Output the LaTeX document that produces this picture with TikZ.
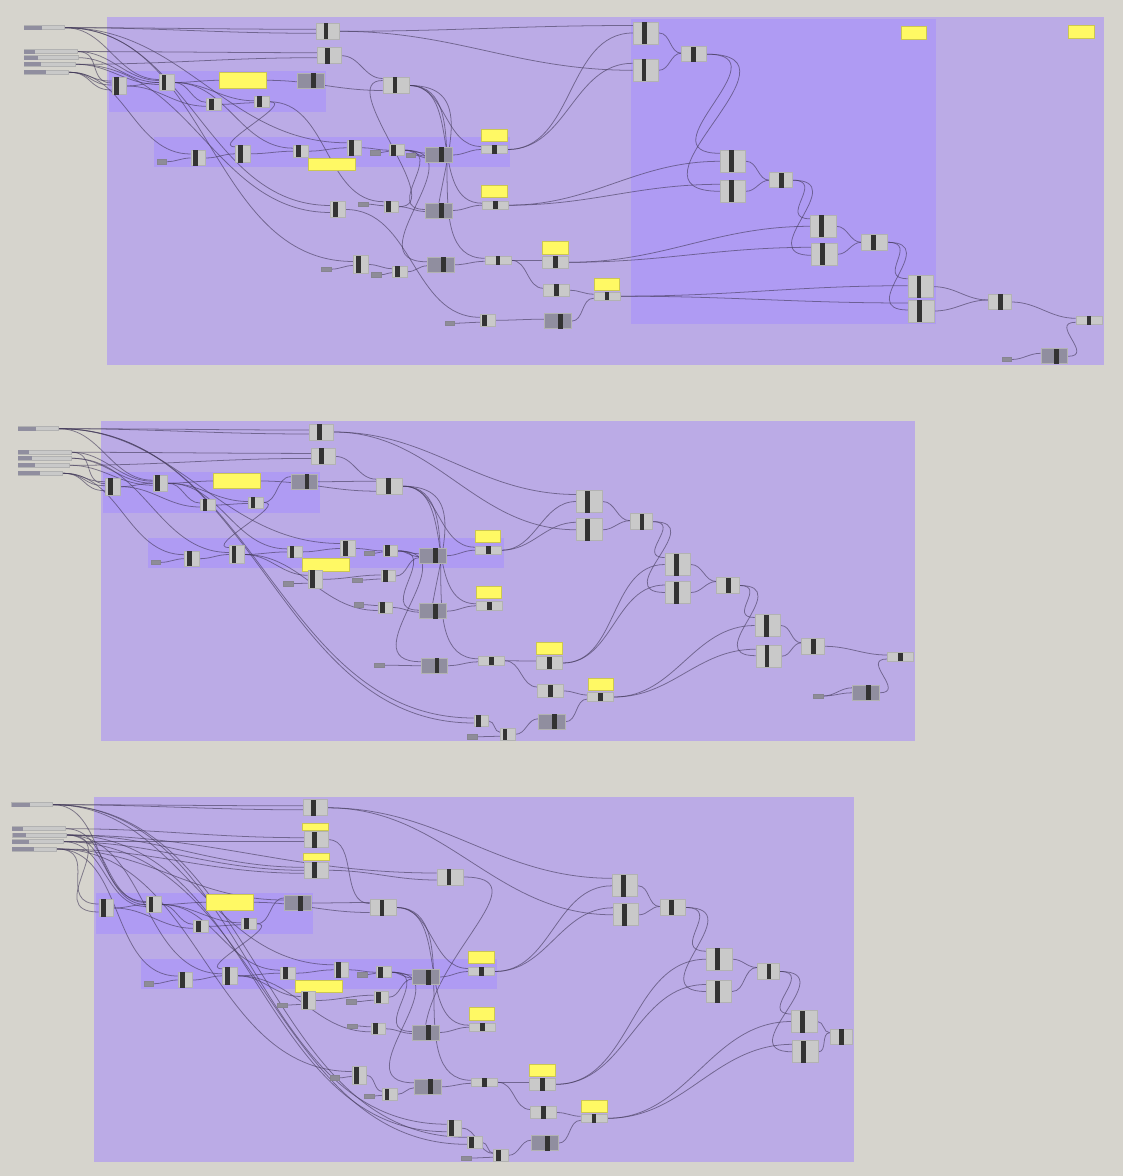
\documentclass[tikz,border=0pt]{standalone}
\usepackage{tikz}
\pgfdeclarelayer{background}
\pgfsetlayers{background,main}
\definecolor{bgc}{HTML}{D6D4CD}
\definecolor{panelc}{HTML}{BBABE6}
\definecolor{grpc}{HTML}{AF9BF3}
\definecolor{compc}{HTML}{C9C9C9}
\definecolor{barc}{HTML}{333333}
\definecolor{dkc}{HTML}{908E9F}
\definecolor{yelc}{HTML}{FFF964}
\definecolor{tagc}{HTML}{8E8C98}
\definecolor{wirec}{HTML}{453C5C}
\tikzset{
  panel/.style={fill=panelc},
  grp/.style={fill=grpc},
  comp/.style={rectangle,draw=black!30,line width=0.5pt,fill=compc,inner sep=0pt},
  darkcomp/.style={comp,fill=dkc},
  yelbox/.style={rectangle,draw=yelc!80!black,line width=0.4pt,fill=yelc,inner sep=0pt},
  tagbox/.style={rectangle,draw=tagc!95!black,line width=0.3pt,fill=tagc,inner sep=0pt,minimum width=7.2pt,minimum height=3.3pt},
  bar/.style={fill=barc},
  wire/.style={draw=wirec,draw opacity=0.62,line width=0.58pt},
}
% generic component: name,x,y,w,h,bar offset,style
\newcommand\Cgen[7]{\node[#7,minimum width={#4*0.75pt},minimum height={#5*0.75pt}] (#1) at (#2,#3) {};
  \fill[bar] ({#2+#6-2.4},{#3-#5/2}) rectangle ({#2+#6+2.4},{#3+#5/2});}
\newcommand\Cbig[3]{\Cgen{#1}{#2}{#3}{25.5}{22}{-1.7}{comp}}
\newcommand\Cmid[3]{\Cgen{#1}{#2}{#3}{23.4}{16}{-1.8}{comp}}
\newcommand\Cnar[4]{\Cgen{#1}{#2}{#3}{14.7}{#4}{-2.8}{comp}}
\newcommand\Cdk[3]{\Cgen{#1}{#2}{#3}{26.6}{15}{2.5}{darkcomp}}
\newcommand\Cflat[3]{\Cgen{#1}{#2}{#3}{26}{8.5}{0}{comp}}
\newcommand\Cflb[3]{\Cgen{#1}{#2}{#3}{26}{12.4}{0}{comp}}
\newcommand\Cyel[5]{\node[yelbox,minimum width={#4*0.75pt},minimum height={#5*0.75pt}] (#1) at (#2,#3) {};}
\newcommand\Ctag[3]{\node[tagbox] (#1) at (#2,#3) {};}
\newcommand\Csld[5]{\node[comp,draw=black!30,fill=compc,minimum width={(#3-#2)*0.75pt},minimum height=3pt] (#1) at ({(#2+#3)/2},#4) {};
  \fill[dkc] (#2,{#4-2}) rectangle (#5,{#4+2});}
% wire: [looseness] from, to, vertical offset at target in px
\newcommand\gwire[4][1]{\draw[wire] (#2.east) to[out=0,in=180,looseness=#1] ([yshift={-(#4)*0.75pt}]#3.west);}
\newcommand\gwiretop[2]{\draw[wire] (#1.east) to[out=0,in=80,looseness=1.3] (#2.north);}
% the parts that every panel repeats
\newcommand\commongroups[2]{%
 \begin{scope}[shift={(#1,#2)}]
   \fill[grp] (109,71) rectangle (326,112);
   \fill[grp] (154.3,137.3) rectangle (510,167.3);
 \end{scope}}
\newcommand\commonnodes[3]{%
 \begin{scope}[shift={(#2,#3)}]
  \Cnar{#1A}{119.3}{86}{17.3}
  \Cnar{#1B}{166.7}{82.5}{15.7}
  \Cyel{#1Y}{243}{80.3}{46.6}{15.3}
  \Cdk{#1K}{310.7}{81}
  \Cnar{#1C}{214}{104.3}{11.3}
  \Cnar{#1D}{262}{101.8}{11.3}
  \Cgen{#1Z}{396}{85.5}{26}{16}{-1}{comp}
  \Ctag{#1T}{161.8}{161.7}
  \Cnar{#1E}{198.3}{158}{15.4}
  \Cnar{#1F}{243}{153.8}{17.7}
  \Cnar{#1G}{301}{151.2}{11.7}
  \Cnar{#1H}{354.3}{147.8}{15.7}
  \Cyel{#1X}{332}{164.2}{46.6}{12.3}
  \Ctag{#1U}{375.2}{152.7}
  \Cnar{#1J}{396.5}{150.2}{11}
  \Cdk{#1L}{439}{155}
  \Cyel{#1V}{494.2}{135.5}{25.6}{12.3}
  \Cflat{#1W}{494.5}{149.5}
 \end{scope}}
\newcommand\commonwires[1]{%
 \gwire{#1A}{#1B}{0}\gwire{#1A}{#1C}{2}\gwire{#1B}{#1Y}{0}\gwire{#1B}{#1C}{-2}\gwire{#1B}{#1D}{-1}
 \gwire{#1C}{#1D}{1}\gwire{#1D}{#1K}{-5}\gwire[1.2]{#1D}{#1F}{-7}
 \gwire{#1Y}{#1Z}{5}\gwire{#1K}{#1Z}{-5}
 \gwire{#1T}{#1E}{0}\gwire{#1E}{#1F}{0}\gwire{#1F}{#1G}{0}\gwire{#1G}{#1H}{0}\gwire{#1B}{#1G}{-3}
 \gwire{#1H}{#1J}{0}\gwire{#1U}{#1J}{1}\gwire{#1J}{#1L}{-2}\gwire{#1J}{#1L}{1}
 \gwire{#1L}{#1W}{0}\gwire{#1Z}{#1W}{-3}}
\begin{document}
\begin{tikzpicture}[x=0.75pt,y=-0.75pt]
\useasboundingbox (0,0) rectangle (1123,1176);
\begin{pgfonlayer}{background}
\fill[bgc] (0,0) rectangle (1123,1176);
\fill[panel] (107,17) rectangle (1104,365);
\fill[panel] (101,421) rectangle (915,741);
\fill[panel] (94,797) rectangle (854,1162);
\fill[grp] (630.7,19) rectangle (935.7,323.7);
\commongroups{0}{0}
\commongroups{-6.3}{400.7}
\commongroups{-13}{822}
\end{pgfonlayer}

%%%%%%%% panel 1 nodes
\commonnodes{a}{0}{0}
\Csld{as1}{24}{64.7}{27.7}{42}
\Csld{as2}{24}{77.7}{51.6}{35}
\Csld{as3}{24}{78}{57.7}{37.7}
\Csld{as4}{24}{75.7}{64.3}{41.3}
\Csld{as5}{24}{68.7}{72.3}{46}
\Cmid{aT1}{327.8}{31.3}
\Cmid{aT2}{329.5}{55.7}
\Ctag{atg0}{410.8}{155}
\Ctag{atg1}{363.2}{204.2}
\Cnar{aI}{338}{209.5}{15.7}
\Cnar{aK}{391.3}{206.7}{11.3}
\Cdk{aL2}{439}{210.5}
\Cyel{aV2}{494.5}{191.5}{25.6}{12.3}
\Cflat{aW2}{495.2}{205.2}
\Cnar{aM0}{361}{264.5}{17.7}
\Ctag{atg2}{326.2}{269.2}
\Ctag{atg3}{376.2}{274.7}
\Cnar{aM}{400}{271.7}{11.3}
\Cdk{aL3}{440.8}{264.8}
\Cflat{aW3}{498}{260.3}
\Cyel{aV3}{555.5}{247.8}{25.6}{12.3}
\Cflb{aN}{555.7}{262.3}
\Cflb{aO}{556.7}{290.3}
\Cyel{aV4}{606.8}{284.2}{25.6}{12.3}
\Cflat{aW4}{607}{296.2}
\Cdk{aL4}{557.8}{321.2}
\Cnar{aP}{487.5}{320.3}{11.3}
\Ctag{atg4}{449.8}{323.2}
\Cbig{aR1}{646}{33}
\Cbig{aR2}{645.7}{70.3}
\Cgen{aR3}{694.2}{54.2}{25}{15}{-1}{comp}
\Cbig{aR4}{733}{161.3}
\Cbig{aR5}{733}{191.3}
\Cgen{aR6}{781}{180.2}{22.6}{15}{0.5}{comp}
\Cbig{aR7}{823.2}{226.3}
\Cbig{aR8}{824.5}{254.3}
\Cgen{aR9}{874.5}{242.3}{25.6}{15.3}{-1}{comp}
\Cbig{aR10}{920.7}{286.7}
\Cbig{aR11}{921.2}{311}
\Cgen{aR12}{999.7}{302}{22.7}{15.3}{0.5}{comp}
\Cflat{aR13}{1089}{320.3}
\Cdk{aL5}{1054.3}{356.3}
\Ctag{atg5}{1006.7}{359.5}
\Cyel{aY3}{914}{33}{25.4}{12.7}
\Cyel{aY4}{1081.3}{32}{26}{12.7}

%%%%%%%% panel 2 nodes
\commonnodes{b}{-6.3}{400.7}
\Csld{bs1}{18}{58.7}{428.7}{36}
\Csld{bs2}{18}{71.7}{452.3}{29}
\Csld{bs3}{18.3}{71.7}{458.3}{31.7}
\Csld{bs4}{18}{69.7}{465.3}{35}
\Csld{bs5}{18}{62.7}{473.3}{40}
\Cmid{bT1}{321.5}{432}
\Cmid{bT2}{323.2}{456.4}
\Cnar{bQ}{315.2}{579.3}{17.7}
\Ctag{btg1}{288.2}{583.5}
\Cnar{bK2}{388.2}{576}{11.3}
\Ctag{btg2}{357.2}{580}
\Cnar{bK3}{385.2}{607.5}{11.3}
\Ctag{btg3}{358.8}{604.7}
\Cdk{bL2}{432.7}{611.2}
\Cyel{bV2}{488.8}{592.5}{25.6}{12.3}
\Cflat{bW2}{489.2}{605.8}
\Ctag{btg4}{379.2}{665.2}
\Cdk{bL3}{434.5}{665.7}
\Cflat{bW3}{491.7}{660.8}
\Cnar{bU1}{481.2}{721}{11.3}
\Cnar{bU3}{507.7}{734.3}{11.3}
\Ctag{btg5}{472.2}{736.7}
\Cbig{bR1}{589.5}{501.5}
\Cbig{bR2}{589.5}{529.8}
\Cgen{bR3}{641.5}{521.7}{22.4}{16}{0.5}{comp}
\Cbig{bR4}{677.8}{564.5}
\Cbig{bR5}{678}{592.5}
\Cgen{bR6}{728}{585.5}{22.6}{15.6}{0.5}{comp}
\Cbig{bR7}{767.8}{625.5}
\Cbig{bR8}{768.7}{656.2}
\Cgen{bR9}{813}{646.3}{22.6}{15.3}{0.5}{comp}
\Cflat{bR13}{900.5}{657}
\Cdk{bL5}{865.8}{692.8}
\Ctag{btg6}{818.2}{696}
\Cflb{bN}{549.5}{663}
\Cyel{bV3}{549.3}{648.5}{25.6}{12.3}
\Cflb{bO}{550.7}{691}
\Cyel{bV4}{600.7}{684.5}{25.6}{12.3}
\Cflat{bW4}{600.7}{697}
\Cdk{bL4}{551.7}{721.8}

%%%%%%%% panel 3 nodes
\commonnodes{c}{-13}{822}
\Csld{cs1}{11.7}{52.7}{804.7}{30}
\Csld{cs2}{12}{65.7}{828.7}{23}
\Csld{cs3}{12.7}{66.3}{835}{26}
\Csld{cs4}{12}{63.7}{841.7}{29.3}
\Csld{cs5}{12}{56.7}{849}{34}
\Cmid{cT1}{315.5}{807.8}
\Cyel{cYa}{315.5}{827}{26.4}{7}
\Cmid{cT2}{316.2}{839.7}
\Cyel{cYb}{316.5}{856.8}{26.4}{7}
\Cmid{cT3}{316.2}{870.3}
\Cgen{cW0}{450}{877}{26}{16}{-1}{comp}
\Cnar{cQ}{308.2}{1000.5}{17.7}
\Ctag{ctg1}{282.2}{1005}
\Cnar{cK2}{381.2}{997.2}{11.3}
\Ctag{ctg2}{351.2}{1001.7}
\Cnar{cK3}{378.2}{1028.8}{11.3}
\Ctag{ctg3}{352.2}{1026}
\Cdk{cL2}{425.7}{1032.5}
\Cyel{cV2}{481.8}{1013.8}{25.6}{12.3}
\Cflat{cW2}{482.2}{1027.2}
\Cnar{cM0}{359.2}{1075.5}{17.7}
\Ctag{ctg4}{334.8}{1077.8}
\Cnar{cM}{389.8}{1094.3}{11.3}
\Ctag{ctg5}{369.2}{1096}
\Cdk{cL3}{427.7}{1086.8}
\Cflat{cW3}{484.8}{1082.3}
\Cflb{cN}{542.7}{1084.3}
\Cyel{cV3}{542.5}{1070.2}{25.6}{12.3}
\Cflb{cO}{543.7}{1112.5}
\Cyel{cV4}{594.3}{1106.2}{25.6}{12.3}
\Cflat{cW4}{594}{1118.3}
\Cdk{cL4}{544.7}{1143.2}
\Cnar{cU1}{454.2}{1128.2}{15.7}
\Cnar{cU2}{474.5}{1142.3}{11.3}
\Cnar{cU3}{501}{1155.3}{11.3}
\Ctag{ctg6}{466.2}{1158}
\Cbig{cR1}{625}{885.8}
\Cbig{cR2}{626}{914.8}
\Cgen{cR3}{672.7}{907.5}{25.4}{15.6}{-1}{comp}
\Cbig{cR4}{719.5}{959.2}
\Cbig{cR5}{719}{991.5}
\Cgen{cR6}{768.5}{971.5}{22.4}{15.6}{0.5}{comp}
\Cbig{cR7}{804.5}{1021.5}
\Cbig{cR8}{805.5}{1051.8}
\Cgen{cR9}{841.3}{1036.8}{22.7}{15.7}{0.5}{comp}

%%%%%%%% all wires, under the nodes
\begin{pgfonlayer}{background}
\commonwires{a}
\gwire{as1}{aT1}{-2}\gwire{as1}{aT1}{2}
\gwire{as2}{aT2}{-3}\gwire{as4}{aT2}{2}
\gwire[1.3]{as5}{aA}{-5}\gwire[1.3]{as5}{aA}{-1}\gwire[1.3]{as5}{aA}{4}\gwire[1.3]{as2}{aA}{-3}
\gwire{as1}{aB}{-3}\gwire{as2}{aB}{-2}\gwire{as3}{aB}{0}\gwire{as4}{aB}{2}
\gwire{as1}{aH}{-5}\gwire{as5}{aE}{-4}
\gwire{as1}{aI}{-4}\gwire{as4}{aI}{3}\gwire{as1}{aM0}{-3}
\gwire{aT2}{aZ}{-7}
\gwire{aI}{aP}{-3}
\gwire{atg1}{aK}{-1}\gwire{aK}{aL2}{1}
\gwire[1.8]{aJ}{aL2}{-1}\gwire[1.7]{aJ}{aL3}{-3}
\gwire{atg0}{aL}{3}
\gwiretop{aZ}{aL2}
\gwire{aZ}{aW2}{-2}\gwire{aZ}{aW3}{-2}
\gwire{aL2}{aW2}{0}
\gwire{atg2}{aM0}{1}\gwire{atg3}{aM}{1}\gwire{aM0}{aM}{-3}\gwire{aM}{aL3}{1}
\gwire{aL3}{aW3}{1}\gwire{aW3}{aN}{-2}\gwire{aW3}{aO}{-2}
\gwire{aO}{aW4}{-2}\gwire{aL4}{aW4}{2}\gwire{aP}{aL4}{-2}\gwire{atg4}{aP}{2}
\gwire{aT1}{aR1}{-7.5}\gwire{aT1}{aR2}{0}\gwire{aW}{aR1}{0}\gwire{aW}{aR2}{-7}
\gwire{aR1}{aR3}{-1}\gwire{aR2}{aR3}{-1}
\gwire[2]{aR3}{aR4}{-8}\gwire[2]{aR3}{aR5}{0}
\gwire{aW2}{aR4}{0}\gwire{aW2}{aR5}{-7}
\gwire{aR4}{aR6}{0}\gwire{aR5}{aR6}{0}
\gwire[2]{aR6}{aR7}{-7.5}\gwire[2]{aR6}{aR8}{1}
\gwire{aN}{aR7}{0}\gwire{aN}{aR8}{-7}
\gwire{aR7}{aR9}{0}\gwire{aR8}{aR9}{0}
\gwire[2]{aR9}{aR10}{-8}\gwire[2]{aR9}{aR11}{-1}
\gwire{aW4}{aR10}{-1}\gwire{aW4}{aR11}{-8}
\gwire{aR10}{aR12}{-2}\gwire{aR11}{aR12}{-2}
\gwire{aR12}{aR13}{-2}\gwire[2]{aL5}{aR13}{2}\gwire{atg5}{aL5}{-3}

\commonwires{b}
\gwire{bs1}{bT1}{-2}\gwire{bs1}{bT1}{2}
\gwire{bs2}{bT2}{-3}\gwire{bs4}{bT2}{2}
\gwire[1.3]{bs5}{bA}{-5}\gwire[1.3]{bs5}{bA}{-1}\gwire[1.3]{bs5}{bA}{4}\gwire[1.3]{bs2}{bA}{-3}
\gwire{bs1}{bB}{-3}\gwire{bs2}{bB}{-2}\gwire{bs3}{bB}{0}\gwire{bs4}{bB}{2}
\gwire{bs1}{bH}{-5}\gwire{bs5}{bE}{-4}
\gwire{bs3}{bF}{-2}
\gwire{bF}{bQ}{-4}\gwire{bF}{bK3}{3}\gwire{btg1}{bQ}{4}
\gwire{bQ}{bK2}{-1}\gwire{btg2}{bK2}{3}\gwire{bK2}{bL}{2}
\gwire{btg3}{bK3}{-2}\gwire{bK3}{bL2}{1}
\gwire[1.8]{bJ}{bL2}{-1}\gwire[1.7]{bJ}{bL3}{-4}
\gwiretop{bZ}{bL2}
\gwire{bZ}{bW2}{-2}\gwire{bZ}{bW3}{-2}
\gwire{bL2}{bW2}{0}\gwire{btg4}{bL3}{0}\gwire{bL3}{bW3}{1}
\gwire{bs1}{bU1}{-3}\gwire{bs1}{bU1}{2}
\gwire{bU1}{bU3}{-2}\gwire{btg5}{bU3}{2}\gwire{bU3}{bL4}{-3}
\gwire{bW3}{bN}{-2}\gwire{bW3}{bO}{-4}
\gwire{bO}{bW4}{-2}\gwire{bL4}{bW4}{2}
\gwire{bT1}{bR1}{-7}\gwire{bT1}{bR2}{0}\gwire{bW}{bR1}{0}\gwire{bW}{bR2}{-7.5}
\gwire{bT2}{bZ}{-7}
\gwire{bR1}{bR3}{-1}\gwire{bR2}{bR3}{-1}
\gwire[2]{bR3}{bR4}{-7}\gwire[2]{bR3}{bR5}{0}
\gwire{bN}{bR4}{0}\gwire{bN}{bR5}{-7.5}
\gwire{bR4}{bR6}{-4}\gwire{bR5}{bR6}{-4}
\gwire[2]{bR6}{bR7}{-8}\gwire[2]{bR6}{bR8}{-0.5}
\gwire{bW4}{bR7}{0}\gwire{bW4}{bR8}{-7}
\gwire{bR7}{bR9}{-3.5}\gwire{bR8}{bR9}{-3.5}
\gwire{bR9}{bR13}{-2}\gwire[2]{bL5}{bR13}{2}
\gwire{btg6}{bL5}{-5}\gwire{btg6}{bL5}{0}

\commonwires{c}
\gwire{cs1}{cT1}{-2}\gwire{cs1}{cT1}{2}
\gwire{cs2}{cT2}{-2}\gwire{cs4}{cT2}{2}
\gwire{cs3}{cT3}{-3}\gwire{cs4}{cT3}{0}\gwire{cs5}{cT3}{3}
\gwire{cs3}{cW0}{-4}\gwire{cT3}{cW0}{3}
\gwire[1.6]{cs5}{cA}{-4}\gwire[1.8]{cs3}{cA}{4}
\gwire{cs1}{cB}{-3}\gwire{cs2}{cB}{-2}\gwire{cs3}{cB}{0}\gwire{cs4}{cB}{2}
\gwire{cs1}{cH}{-5}\gwire{cs5}{cE}{-4}
\gwire{cs5}{cK}{-3}
\gwire{cT2}{cZ}{-4}
\gwire{cs3}{cF}{-2}
\gwire{cF}{cQ}{-4}\gwire{cF}{cK3}{3}\gwire{ctg1}{cQ}{4}
\gwire{cQ}{cK2}{-2}\gwire{ctg2}{cK2}{3}\gwire{cK2}{cL}{2}
\gwire{ctg3}{cK3}{-2}\gwire{cK3}{cL2}{1}
\gwire[1.8]{cJ}{cL2}{-1}\gwire[1.7]{cJ}{cL3}{-4}
\gwiretop{cW0}{cL2}
\gwire{cZ}{cW2}{-2}\gwire{cZ}{cW3}{-2}
\gwire{cL2}{cW2}{0}
\gwire{cs5}{cM0}{-4}
\gwire{ctg4}{cM0}{1}\gwire{ctg5}{cM}{1}\gwire{cM0}{cM}{-3}\gwire{cM}{cL3}{1}
\gwire{cL3}{cW3}{1}
\gwire{cW3}{cN}{-2}\gwire{cW3}{cO}{-3}
\gwire{cO}{cW4}{-2}\gwire{cL4}{cW4}{2}
\gwire{cs1}{cU1}{-4}\gwire{cs3}{cU1}{3.5}\gwire{cs1}{cU2}{-5}\gwire{cs4}{cU2}{2}
\gwire{cU1}{cU3}{-2}\gwire{cU2}{cU3}{-2}\gwire{ctg6}{cU3}{2}\gwire{cU3}{cL4}{-3}
\gwire{cT1}{cR1}{-7.5}\gwire{cT1}{cR2}{0}\gwire{cW}{cR1}{0}\gwire{cW}{cR2}{-7}
\gwire{cR1}{cR3}{-1}\gwire{cR2}{cR3}{-1}
\gwire[2]{cR3}{cR4}{-8}\gwire[2]{cR3}{cR5}{0}
\gwire{cN}{cR4}{0}\gwire{cN}{cR5}{-7}
\gwire{cR4}{cR6}{-4}\gwire{cR5}{cR6}{-4}
\gwire[2]{cR6}{cR7}{-7.5}\gwire[2]{cR6}{cR8}{0}
\gwire{cW4}{cR7}{0}\gwire{cW4}{cR8}{-7.5}
\gwire{cR7}{cR9}{-4}\gwire{cR8}{cR9}{-4}
\end{pgfonlayer}
\end{tikzpicture}
\end{document}
